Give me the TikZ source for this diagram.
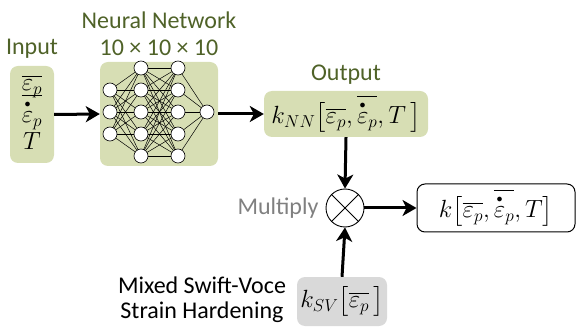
\documentclass[tikz,border=0pt]{standalone}
\usepackage{amsmath}
\usepackage{fontspec}
\setmainfont{Carlito}
\usetikzlibrary{arrows.meta}
\definecolor{olivetext}{RGB}{79,98,40}
\definecolor{olivefill}{RGB}{215,222,180}
\definecolor{greyfill}{RGB}{217,217,217}
\definecolor{greytext}{RGB}{128,128,128}
\newcommand{\epsdot}{\overset{\scriptscriptstyle\bullet}{\varepsilon}}
\tikzset{
  lbl/.style={font=\fontsize{24}{29}\selectfont, inner sep=0pt},
  greenlbl/.style={lbl, text=olivetext},
  mathfont/.style={font=\fontsize{25}{30}\selectfont},
  mbox/.style={rounded corners=8pt, inner sep=0pt, mathfont},
  neuron/.style={circle, draw=black, fill=white, line width=0.6pt, minimum size=14pt, inner sep=0pt},
  syn/.style={line width=0.5pt},
  flow/.style={line width=3pt, -{Stealth[length=14pt,width=16pt,inset=4pt]}},
}
\begin{document}
\begin{tikzpicture}[x=1pt,y=-1pt]
\useasboundingbox (0,0) rectangle (577,328);
% labels
\node[greenlbl] (tin) at (32,49) {Input};
\node[greenlbl] (tnn) at (159,20) {Neural Network};
\node[greenlbl] (tsz) at (159,48) {10 × 10 × 10};
\node[greenlbl] (tout) at (346,75) {Output};
\node[lbl, text=greytext] (tmul) at (278,208) {Multiply};
\node[lbl, align=center, font=\fontsize{24}{25}\selectfont] (tsv) at (202,300) {Mixed Swift-Voce\\Strain Hardening};
% boxes
\node[mbox, fill=olivefill, minimum width=44pt, minimum height=97pt] (inbox) at (32,114.5) {};
\node[inner sep=0pt, mathfont] (in1) at (32,86) {$\overline{\varepsilon_p}$};
\node[inner sep=0pt, mathfont] (in2) at (32,112) {$\overline{\epsdot_p}$};
\node[inner sep=0pt, mathfont] (in3) at (32,141) {$T$};
\node[mbox, fill=olivefill, minimum width=164pt, minimum height=46pt] (outbox) at (346,114) {$k_{NN}\bigl[\overline{\varepsilon_p},\overline{\epsdot_p},T\,\bigr]$};
\node[mbox, fill=olivefill, minimum width=118pt, minimum height=104pt] (nn) at (159,114) {};
\node[circle, draw=black, line width=0.9pt, minimum size=38pt, inner sep=0pt] (mult) at (345,208) {};
\draw[line width=0.9pt] (mult.north west) -- (mult.south east) (mult.north east) -- (mult.south west);
\node[mbox, draw=black, fill=white, line width=1pt, minimum width=158pt, minimum height=48pt] (res) at (496,208) {$k\bigl[\overline{\varepsilon_p},\overline{\epsdot_p},T\bigr]$};
\node[mbox, fill=greyfill, minimum width=90pt, minimum height=49pt] (sv) at (342,301.5) {$k_{SV}\bigl[\overline{\varepsilon_p}\,\bigr]$};
% neuron positions
\foreach \i/\y in {1/90,2/112,3/134} \coordinate (a\i) at (110,\y);
\foreach \i/\y in {1/68,2/90,3/112,4/134,5/156} {
  \coordinate (b\i) at (141,\y);
  \coordinate (c\i) at (178,\y);
}
\coordinate (o1) at (207,112);
\foreach \i in {1,2,3} \foreach \j in {1,...,5} \draw[syn] (a\i) -- (b\j);
\foreach \i in {1,...,5} \foreach \j in {1,...,5} \draw[syn] (b\i) -- (c\j);
\foreach \i in {1,...,5} \draw[syn] (c\i) -- (o1);
\foreach \i in {1,2,3} \node[neuron] (na\i) at (a\i) {};
\foreach \i in {1,...,5} { \node[neuron] (nb\i) at (b\i) {}; \node[neuron] (nc\i) at (c\i) {}; }
\node[neuron] (no1) at (o1) {};
% arrows
\draw[flow] (inbox.east) -- (nn.west);
\draw[flow] (nn.east) -- (outbox.west);
\draw[flow] (outbox.south) -- (mult.north);
\draw[flow] (mult.east) -- (res.west);
\draw[flow] (sv.north) -- (mult.south);
\end{tikzpicture}
\end{document}
